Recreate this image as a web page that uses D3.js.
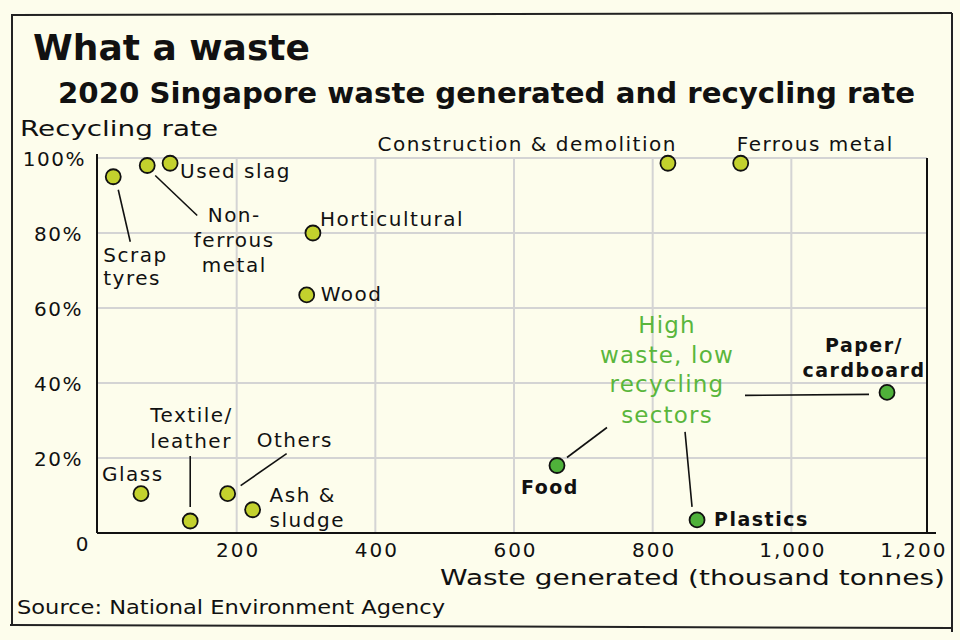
<!DOCTYPE html>
<html><head><meta charset="utf-8">
<script src="https://cdn.jsdelivr.net/npm/d3@7/dist/d3.min.js"></script>
<style>
body{margin:0;background:#fdfdec;}
svg{display:block;}
text{font-family:"DejaVu Sans","Noto Sans",sans-serif;fill:#111;}
</style></head>
<body><svg id="chart" width="960" height="640"></svg>
<script>
// ---- data ----
const sectors = ["Scrap tyres","Non-ferrous metal","Used slag","Construction & demolition","Ferrous metal","Horticultural","Wood","Paper/cardboard","Plastics","Food","Glass","Textile/leather","Others","Ash & sludge"];
const wasteGenerated = [22, 71, 104, 822, 927, 310, 301, 1138, 864, 662, 62, 133, 187, 223];
const recyclingRate = [95, 98, 98.6, 98.6, 98.6, 80, 63.5, 37.5, 3.5, 18, 10.5, 3.2, 10.5, 6.2];
const highlighted = ["Paper/cardboard","Plastics","Food"];
const xTicks = [0, 200, 400, 600, 800, 1000, 1200];
const yTicks = [0, 20, 40, 60, 80, 100];

// ---- label layout (pixel offsets from each point) ----
const labelLayout = {
  "Scrap tyres": {lines:["Scrap","tyres"], dx:-10, dy:[85,108], anchor:"start", leader:[5,13,17,65]},
  "Non-ferrous metal": {lines:["Non-","ferrous","metal"], dx:87, dy:[56,81,106], anchor:"middle", leader:[8,10,50,50]},
  "Used slag": {lines:["Used slag"], dx:10, dy:[15], anchor:"start"},
  "Construction & demolition": {lines:["Construction & demolition"], dx:9, dy:[-12], anchor:"end"},
  "Ferrous metal": {lines:["Ferrous metal"], dx:-4, dy:[-12], anchor:"start"},
  "Horticultural": {lines:["Horticultural"], dx:7, dy:[-7], anchor:"start"},
  "Wood": {lines:["Wood"], dx:14, dy:[6], anchor:"start"},
  "Paper/cardboard": {lines:["Paper/","cardboard"], dx:-23, dy:[-40,-15], anchor:"middle", bold:true, leader:[-142,3,-18,2]},
  "Plastics": {lines:["Plastics"], dx:17, dy:[6], anchor:"start", bold:true, leader:[-12,-88,-5,-13]},
  "Food": {lines:["Food"], dx:-36, dy:[28], anchor:"start", bold:true, leader:[10,-8,50,-38]},
  "Glass": {lines:["Glass"], dx:-39, dy:[-13], anchor:"start"},
  "Textile/leather": {lines:["Textile/","leather"], dx:-40, dy:[-99,-73], anchor:"start", leader:[0,-65,0,-14]},
  "Others": {lines:["Others"], dx:29, dy:[-47], anchor:"start", leader:[13,-8,59,-40]},
  "Ash & sludge": {lines:["Ash &","sludge"], dx:17, dy:[-8,17], anchor:"start"}
};

const svg = d3.select("#chart");
const W = 960, H = 640;
svg.append("rect").attr("width",W).attr("height",H).attr("fill","#fdfdec");

const x = d3.scaleLinear().domain([0,1200]).range([98,930]);
const y = d3.scaleLinear().domain([0,100]).range([533,158]);

const lightDot = "#c3d12d", darkDot = "#4fb13a", greenText = "#5ab63c";
const FONT = '"DejaVu Sans","Noto Sans",sans-serif';

// frame
const frame = svg.append("g").attr("stroke","#222").attr("stroke-width",2).attr("fill","none");
frame.append("path").attr("d","M12,15 L952,13");
frame.append("path").attr("d","M12,14 L12,626");
frame.append("path").attr("d","M10,625 L953,628");
frame.append("path").attr("d","M952,13 L952,632");

// grid
const grid = svg.append("g").attr("stroke","#d4d4d4").attr("stroke-width",2);
grid.selectAll(".gx").data(xTicks.filter(d=>d>0 && d<1200)).enter().append("line")
  .attr("x1",d=>x(d)).attr("x2",d=>x(d)).attr("y1",y(100)).attr("y2",y(0));
grid.selectAll(".gy").data(yTicks.filter(d=>d>0)).enter().append("line")
  .attr("x1",x(0)).attr("x2",x(1200)-3).attr("y1",d=>y(d)).attr("y2",d=>y(d));

// axes lines
const ax = svg.append("g").attr("stroke","#111").attr("stroke-width",2).attr("fill","none");
ax.append("line").attr("x1",x(0)-1).attr("x2",x(0)-1).attr("y1",y(100)-4).attr("y2",y(0));
ax.append("line").attr("x1",x(0)-1).attr("x2",936).attr("y1",y(0)).attr("y2",y(0));
ax.append("line").attr("x1",927).attr("x2",927).attr("y1",y(100)).attr("y2",y(0));

// tick labels via d3 axes (domain/ticks hidden)
const xAxis = d3.axisBottom(x).tickValues(xTicks.filter(d=>d>0)).tickSize(0).tickPadding(0)
  .tickFormat(d3.format(","));
const gx = svg.append("g").attr("transform",`translate(0,${y(0)+24})`).call(xAxis);
gx.select(".domain").remove();
gx.selectAll("text").attr("font-size",20).attr("fill","#111").attr("dy",0)
  .attr("font-family",FONT).attr("letter-spacing",2)
  .attr("text-anchor",d=>d===1200?"end":"middle")
  .attr("x",d=>d===1200?17:1);

const yAxis = d3.axisLeft(y).tickValues(yTicks).tickSize(0).tickPadding(0)
  .tickFormat(d=>d===0?"0":d+"%");
const gy = svg.append("g").attr("transform",`translate(84,0)`).call(yAxis);
gy.select(".domain").remove();
gy.selectAll("text").attr("font-size",20).attr("fill","#111").attr("dy","0.35em")
  .attr("font-family",FONT).attr("letter-spacing",1.5)
  .attr("y",d=>d===0?10:0).attr("x",d=>d===100?2:(d===0?6:-1));

// titles
svg.append("text").attr("x",33).attr("y",60).attr("font-size",35).attr("font-weight","bold")
  .attr("textLength",277).attr("lengthAdjust","spacingAndGlyphs").text("What a waste");
svg.append("text").attr("x",58).attr("y",103).attr("font-size",28).attr("font-weight","bold")
  .attr("textLength",857).attr("lengthAdjust","spacingAndGlyphs").text("2020 Singapore waste generated and recycling rate");
svg.append("text").attr("x",20).attr("y",136).attr("font-size",22)
  .attr("textLength",198).attr("lengthAdjust","spacingAndGlyphs").text("Recycling rate");
svg.append("text").attr("x",945).attr("y",585).attr("font-size",22).attr("text-anchor","end")
  .attr("textLength",505).attr("lengthAdjust","spacingAndGlyphs").text("Waste generated (thousand tonnes)");
svg.append("text").attr("x",17).attr("y",614).attr("font-size",20)
  .attr("textLength",428).attr("lengthAdjust","spacingAndGlyphs").text("Source: National Environment Agency");

// data table
const data = sectors.map((s,i)=>({name:s, waste:wasteGenerated[i], rate:recyclingRate[i], hi:highlighted.includes(s)}));

// leaders
const leaders = svg.append("g").attr("stroke","#111").attr("stroke-width",1.6);
data.forEach(d=>{
  const L = labelLayout[d.name];
  if(L && L.leader){
    const px = x(d.waste), py = y(d.rate);
    leaders.append("line").attr("x1",px+L.leader[0]).attr("y1",py+L.leader[1])
      .attr("x2",px+L.leader[2]).attr("y2",py+L.leader[3]);
  }
});

// points
svg.append("g").selectAll("circle").data(data).enter().append("circle")
  .attr("cx",d=>x(d.waste)).attr("cy",d=>y(d.rate)).attr("r",7.5)
  .attr("fill",d=>d.hi?darkDot:lightDot).attr("stroke","#111").attr("stroke-width",1.8);

// labels
const lg = svg.append("g");
data.forEach(d=>{
  const L = labelLayout[d.name];
  const px = x(d.waste), py = y(d.rate);
  L.lines.forEach((t,k)=>{
    lg.append("text").attr("x",px+L.dx).attr("y",py+L.dy[k]).attr("text-anchor",L.anchor)
      .attr("font-size",L.bold?19:20).attr("letter-spacing",1.5)
      .attr("font-weight",L.bold?"bold":"normal").text(t);
  });
});

// highlight annotation
const ann = ["High","waste, low","recycling","sectors"];
const annY = [333,363,392,423];
ann.forEach((t,i)=>{
  svg.append("text").attr("x",667).attr("y",annY[i]).attr("text-anchor","middle")
    .attr("font-size",23).attr("letter-spacing",1.2).style("fill",greenText).text(t);
});
</script>
</body></html>
